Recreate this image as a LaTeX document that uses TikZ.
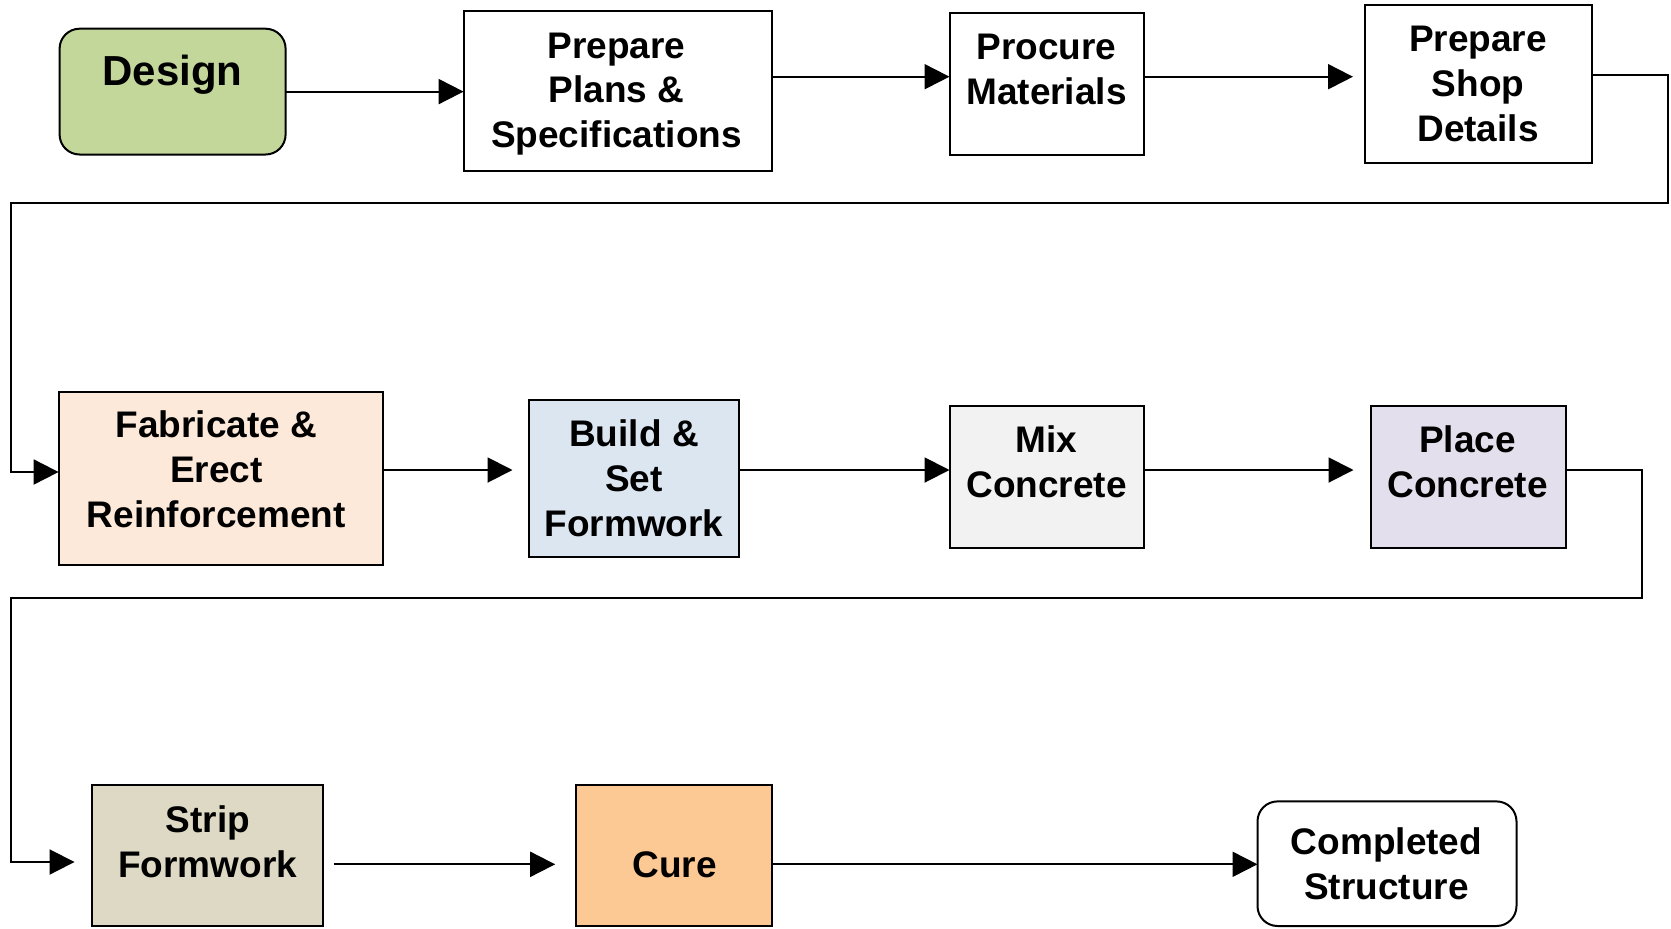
\documentclass[tikz,border=0pt]{standalone}
\usepackage{fontspec}
\setmainfont{Liberation Sans}
\usetikzlibrary{arrows.meta}
\definecolor{cDesign}{HTML}{C4D79B}
\definecolor{cFab}{HTML}{FDE9D9}
\definecolor{cBuild}{HTML}{DCE6F1}
\definecolor{cMix}{HTML}{F2F2F2}
\definecolor{cPlace}{HTML}{E4DFEC}
\definecolor{cStrip}{HTML}{DDD9C4}
\definecolor{cCure}{HTML}{FCC994}
\tikzset{
  box/.style={draw=black, line width=1pt, rectangle, inner sep=0pt, outer sep=0pt},
  rbox/.style={box, rounded corners=10pt},
  txt/.style={align=center, inner sep=0pt, font=\bfseries\fontsize{18.5}{22.4}\selectfont},
  bigtxt/.style={align=center, inner sep=0pt, font=\bfseries\fontsize{21}{25}\selectfont},
  arr/.style={line width=1pt, -{Triangle[length=12.5pt, width=12.5pt]}},
}
\begin{document}
\begin{tikzpicture}[x=0.5pt, y=-0.5pt]
\useasboundingbox (0,0) rectangle (1671,928);

% ---- first row ----
\node[rbox, fill=cDesign, minimum width=113pt, minimum height=62.9pt] (design) at (172.6,91.6) {};
\node[bigtxt] (designT) at (172.6,74.6) {Design};

\node[box, fill=white, minimum width=154pt, minimum height=79.9pt] (prep) at (617.6,90.6) {};
\node[txt] (prepT) at (616.5,94) {Prepare\\Plans \&\\Specifications};

\node[box, fill=white, minimum width=97pt, minimum height=70.9pt] (proc) at (1046.5,83.7) {};
\node[txt] (procT) at (1046.5,69.3) {Procure\\Materials};

\node[box, fill=white, minimum width=113.5pt, minimum height=78.9pt] (shop) at (1478.5,84.2) {};
\node[txt] (shopT) at (1478,84.2) {Prepare\\Shop\\Details};

% ---- second row ----
\node[box, fill=cFab, minimum width=162pt, minimum height=86.3pt] (fab) at (220.6,478.5) {};
\node[txt] (fabT) at (216.3,469.5) {Fabricate \&\\Erect\\Reinforcement};

\node[box, fill=cBuild, minimum width=105pt, minimum height=78.9pt] (build) at (633.5,478.5) {};
\node[txt] (buildT) at (634,478.5) {Build \&\\Set\\Formwork};

\node[box, fill=cMix, minimum width=97pt, minimum height=70.9pt] (mix) at (1046.5,476.9) {};
\node[txt] (mixT) at (1046.5,461.4) {Mix\\Concrete};

\node[box, fill=cPlace, minimum width=97.5pt, minimum height=70.9pt] (place) at (1468,476.9) {};
\node[txt] (placeT) at (1467.5,461.4) {Place\\Concrete};

% ---- third row ----
\node[box, fill=cStrip, minimum width=115.7pt, minimum height=70.3pt] (strip) at (207.25,855.7) {};
\node[txt] (stripT) at (207.8,841.9) {Strip\\Formwork};

\node[box, fill=cCure, minimum width=97.6pt, minimum height=70.3pt] (cure) at (674,855.7) {};
\node[txt] (cureT) at (674.6,864.3) {Cure};

\node[rbox, fill=white, minimum width=129.5pt, minimum height=62.3pt] (done) at (1387,863.7) {};
\node[txt] (doneT) at (1386.5,863.5) {Completed\\Structure};

% ---- helper heights for connectors ----
\coordinate (hA) at (0,76.7);
\coordinate (hB) at (0,74.6);
\coordinate (hC) at (0,472);
\coordinate (hD) at (0,470);
\coordinate (hE) at (0,862);
\coordinate (hF) at (0,864.3);

% ---- connectors, first row ----
\draw[arr] (design.east) -- (prep.west |- design.east);
\draw[arr] (prep.east |- hA) -- (proc.west |- hA);
\draw[arr, shorten >=6pt] (proc.east |- hA) -- (shop.west |- hA);

% ---- return loop to second row ----
\coordinate (l1a) at (1667.8,74.6);
\coordinate (l1b) at (1667.8,202.5);
\coordinate (l1c) at (10.7,202.5);
\coordinate (l1d) at (10.7,472);
\draw[arr] (shop.east |- hB) -- (l1a) -- (l1b) -- (l1c) -- (l1d) -- (fab.west |- hC);

% ---- connectors, second row ----
\draw[arr, shorten >=8pt] (fab.east |- hD) -- (build.west |- hD);
\draw[arr] (build.east |- hD) -- (mix.west |- hD);
\draw[arr, shorten >=8.5pt] (mix.east |- hD) -- (place.west |- hD);

% ---- return loop to third row ----
\coordinate (l2a) at (1642,470);
\coordinate (l2b) at (1642,597.8);
\coordinate (l2c) at (10.7,597.8);
\coordinate (l2d) at (10.7,862);
\draw[arr, shorten >=8.5pt] (place.east |- hD) -- (l2a) -- (l2b) -- (l2c) -- (l2d) -- (strip.west |- hE);

% ---- connectors, third row ----
\draw[arr, shorten <=5.3pt, shorten >=10.6pt] (strip.east |- hF) -- (cure.west |- hF);
\draw[arr] (cure.east |- hF) -- (done.west |- hF);
\end{tikzpicture}
\end{document}
